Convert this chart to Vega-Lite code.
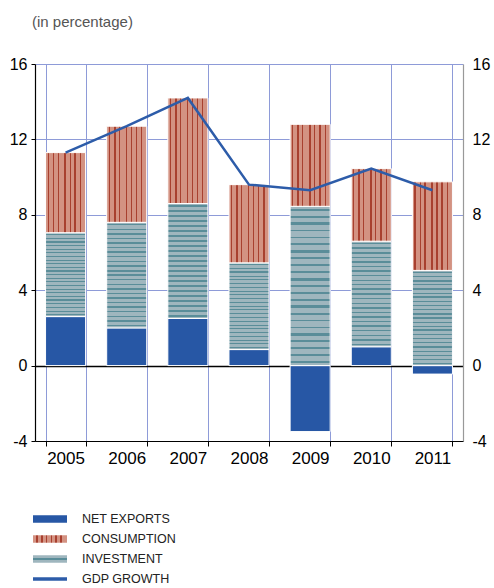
{
  "$schema": "https://vega.github.io/schema/vega-lite/v6.json",
  "width": 428,
  "height": 377,
  "autosize": {"type": "none"},
  "padding": {"left": 35, "top": 64, "right": 31, "bottom": 147},
  "background": "white",
  "title": {"text": "(in percentage)", "anchor": "start", "frame": "group", "orient": "top", "offset": 14, "dx": -3, "baseline": "alphabetic", "fontSize": 15, "fontWeight": "normal", "color": "#555555", "font": "Liberation Sans"},
  "config": {"view": {"stroke": null}, "font": "Liberation Sans"},
  "datasets": {
    "components": [
      {"year": "2005", "series": "NET EXPORTS", "value": 2.6},
      {"year": "2005", "series": "INVESTMENT", "value": 4.45},
      {"year": "2005", "series": "CONSUMPTION", "value": 4.25},
      {"year": "2006", "series": "NET EXPORTS", "value": 2.0},
      {"year": "2006", "series": "INVESTMENT", "value": 5.6},
      {"year": "2006", "series": "CONSUMPTION", "value": 5.1},
      {"year": "2007", "series": "NET EXPORTS", "value": 2.5},
      {"year": "2007", "series": "INVESTMENT", "value": 6.1},
      {"year": "2007", "series": "CONSUMPTION", "value": 5.6},
      {"year": "2008", "series": "NET EXPORTS", "value": 0.85},
      {"year": "2008", "series": "INVESTMENT", "value": 4.6},
      {"year": "2008", "series": "CONSUMPTION", "value": 4.15},
      {"year": "2009", "series": "NET EXPORTS", "value": -3.5},
      {"year": "2009", "series": "INVESTMENT", "value": 8.45},
      {"year": "2009", "series": "CONSUMPTION", "value": 4.35},
      {"year": "2010", "series": "NET EXPORTS", "value": 1.0},
      {"year": "2010", "series": "INVESTMENT", "value": 5.6},
      {"year": "2010", "series": "CONSUMPTION", "value": 3.85},
      {"year": "2011", "series": "NET EXPORTS", "value": -0.45},
      {"year": "2011", "series": "INVESTMENT", "value": 5.05},
      {"year": "2011", "series": "CONSUMPTION", "value": 4.7}
    ],
    "gdp": [
      {"year": "2005", "series": "GDP GROWTH", "value": 11.3},
      {"year": "2006", "series": "GDP GROWTH", "value": 12.7},
      {"year": "2007", "series": "GDP GROWTH", "value": 14.2},
      {"year": "2008", "series": "GDP GROWTH", "value": 9.6},
      {"year": "2009", "series": "GDP GROWTH", "value": 9.3},
      {"year": "2010", "series": "GDP GROWTH", "value": 10.45},
      {"year": "2011", "series": "GDP GROWTH", "value": 9.3}
    ]
  },
  "layer": [
    {
      "data": {"name": "components"},
      "transform": [
        {"stack": "value", "groupby": ["year"], "sort": [{"field": "series", "order": "descending"}], "as": ["y0", "y1"], "offset": "zero"}
      ],
      "encoding": {
        "x": {
          "field": "year", "type": "ordinal",
          "scale": {"paddingInner": 0.345, "paddingOuter": 0.1725},
          "axis": {"title": null, "tickBand": "extent", "labelAngle": 0, "labelFontSize": 17, "labelColor": "black", "labelPadding": 4, "tickSize": 5, "tickColor": "black", "domainColor": "black", "domainWidth": 1.2, "grid": true, "gridColor": "#8e9bd8", "gridWidth": 1}
        },
        "y": {
          "field": "y0", "type": "quantitative",
          "scale": {"domain": [-4, 16], "nice": false},
          "axis": {
            "title": null, "values": [-4, 0, 4, 8, 12, 16], "labelExpr": "'' + datum.value", "labelFontSize": 16, "labelColor": "black",
            "tickSize": 4, "tickColor": "black", "labelPadding": 4, "domainColor": "black", "domainWidth": 1.2,
            "grid": true,
            "gridColor": {"condition": {"test": "datum.value === 0 || datum.value === -4", "value": "black"}, "value": "#8e9bd8"},
            "gridWidth": {"condition": {"test": "datum.value === 0", "value": 1.5}, "value": 1}
          }
        },
        "y2": {"field": "y1"}
      },
      "layer": [
        {
          "transform": [{"filter": "datum.series === 'NET EXPORTS'"}],
          "mark": {"type": "bar", "fill": "#2757a5", "stroke": "white", "strokeWidth": 1}
        },
        {
          "transform": [{"filter": "datum.series === 'INVESTMENT'"}],
          "mark": {"type": "bar", "stroke": "white", "strokeWidth": 1,
            "fill": {"gradient": "linear", "x1": 0, "y1": 0, "x2": 0, "y2": 1, "stops": [
                {"offset": 0, "color": "#9fb6be"},
                {"offset": 0.016, "color": "#9fb6be"}, {"offset": 0.016, "color": "#5a8d99"}, {"offset": 0.028, "color": "#5a8d99"}, {"offset": 0.028, "color": "#9fb6be"},
                {"offset": 0.059, "color": "#9fb6be"}, {"offset": 0.059, "color": "#5a8d99"}, {"offset": 0.071, "color": "#5a8d99"}, {"offset": 0.071, "color": "#9fb6be"},
                {"offset": 0.099, "color": "#9fb6be"}, {"offset": 0.099, "color": "#5a8d99"}, {"offset": 0.119, "color": "#5a8d99"}, {"offset": 0.119, "color": "#9fb6be"},
                {"offset": 0.146, "color": "#9fb6be"}, {"offset": 0.146, "color": "#5a8d99"}, {"offset": 0.158, "color": "#5a8d99"}, {"offset": 0.158, "color": "#9fb6be"},
                {"offset": 0.190, "color": "#9fb6be"}, {"offset": 0.190, "color": "#5a8d99"}, {"offset": 0.202, "color": "#5a8d99"}, {"offset": 0.202, "color": "#9fb6be"},
                {"offset": 0.233, "color": "#9fb6be"}, {"offset": 0.233, "color": "#5a8d99"}, {"offset": 0.245, "color": "#5a8d99"}, {"offset": 0.245, "color": "#9fb6be"},
                {"offset": 0.273, "color": "#9fb6be"}, {"offset": 0.273, "color": "#5a8d99"}, {"offset": 0.293, "color": "#5a8d99"}, {"offset": 0.293, "color": "#9fb6be"},
                {"offset": 0.320, "color": "#9fb6be"}, {"offset": 0.320, "color": "#5a8d99"}, {"offset": 0.332, "color": "#5a8d99"}, {"offset": 0.332, "color": "#9fb6be"},
                {"offset": 0.364, "color": "#9fb6be"}, {"offset": 0.364, "color": "#5a8d99"}, {"offset": 0.376, "color": "#5a8d99"}, {"offset": 0.376, "color": "#9fb6be"},
                {"offset": 0.407, "color": "#9fb6be"}, {"offset": 0.407, "color": "#5a8d99"}, {"offset": 0.419, "color": "#5a8d99"}, {"offset": 0.419, "color": "#9fb6be"},
                {"offset": 0.447, "color": "#9fb6be"}, {"offset": 0.447, "color": "#5a8d99"}, {"offset": 0.467, "color": "#5a8d99"}, {"offset": 0.467, "color": "#9fb6be"},
                {"offset": 0.494, "color": "#9fb6be"}, {"offset": 0.494, "color": "#5a8d99"}, {"offset": 0.506, "color": "#5a8d99"}, {"offset": 0.506, "color": "#9fb6be"},
                {"offset": 0.537, "color": "#9fb6be"}, {"offset": 0.537, "color": "#5a8d99"}, {"offset": 0.549, "color": "#5a8d99"}, {"offset": 0.549, "color": "#9fb6be"},
                {"offset": 0.581, "color": "#9fb6be"}, {"offset": 0.581, "color": "#5a8d99"}, {"offset": 0.593, "color": "#5a8d99"}, {"offset": 0.593, "color": "#9fb6be"},
                {"offset": 0.620, "color": "#9fb6be"}, {"offset": 0.620, "color": "#5a8d99"}, {"offset": 0.640, "color": "#5a8d99"}, {"offset": 0.640, "color": "#9fb6be"},
                {"offset": 0.668, "color": "#9fb6be"}, {"offset": 0.668, "color": "#5a8d99"}, {"offset": 0.680, "color": "#5a8d99"}, {"offset": 0.680, "color": "#9fb6be"},
                {"offset": 0.711, "color": "#9fb6be"}, {"offset": 0.711, "color": "#5a8d99"}, {"offset": 0.723, "color": "#5a8d99"}, {"offset": 0.723, "color": "#9fb6be"},
                {"offset": 0.755, "color": "#9fb6be"}, {"offset": 0.755, "color": "#5a8d99"}, {"offset": 0.767, "color": "#5a8d99"}, {"offset": 0.767, "color": "#9fb6be"},
                {"offset": 0.794, "color": "#9fb6be"}, {"offset": 0.794, "color": "#5a8d99"}, {"offset": 0.814, "color": "#5a8d99"}, {"offset": 0.814, "color": "#9fb6be"},
                {"offset": 0.842, "color": "#9fb6be"}, {"offset": 0.842, "color": "#5a8d99"}, {"offset": 0.854, "color": "#5a8d99"}, {"offset": 0.854, "color": "#9fb6be"},
                {"offset": 0.885, "color": "#9fb6be"}, {"offset": 0.885, "color": "#5a8d99"}, {"offset": 0.897, "color": "#5a8d99"}, {"offset": 0.897, "color": "#9fb6be"},
                {"offset": 0.929, "color": "#9fb6be"}, {"offset": 0.929, "color": "#5a8d99"}, {"offset": 0.941, "color": "#5a8d99"}, {"offset": 0.941, "color": "#9fb6be"},
                {"offset": 0.972, "color": "#9fb6be"}, {"offset": 0.972, "color": "#5a8d99"}, {"offset": 0.984, "color": "#5a8d99"}, {"offset": 0.984, "color": "#9fb6be"},
                {"offset": 1, "color": "#9fb6be"}
            ]}
          }
        },
        {
          "transform": [{"filter": "datum.series === 'CONSUMPTION'"}],
          "mark": {"type": "bar", "stroke": "white", "strokeWidth": 1,
            "fill": {"gradient": "linear", "x1": 0, "y1": 0, "x2": 1, "y2": 0, "stops": [
                {"offset": 0, "color": "#d39282"},
                {"offset": 0.05, "color": "#d39282"}, {"offset": 0.05, "color": "#a8402f"}, {"offset": 0.08, "color": "#a8402f"}, {"offset": 0.08, "color": "#d39282"},
                {"offset": 0.18, "color": "#d39282"}, {"offset": 0.18, "color": "#a8402f"}, {"offset": 0.22, "color": "#a8402f"}, {"offset": 0.22, "color": "#d39282"},
                {"offset": 0.30, "color": "#d39282"}, {"offset": 0.30, "color": "#a8402f"}, {"offset": 0.33, "color": "#a8402f"}, {"offset": 0.33, "color": "#d39282"},
                {"offset": 0.47, "color": "#d39282"}, {"offset": 0.47, "color": "#a8402f"}, {"offset": 0.51, "color": "#a8402f"}, {"offset": 0.51, "color": "#d39282"},
                {"offset": 0.60, "color": "#d39282"}, {"offset": 0.60, "color": "#a8402f"}, {"offset": 0.63, "color": "#a8402f"}, {"offset": 0.63, "color": "#d39282"},
                {"offset": 0.72, "color": "#d39282"}, {"offset": 0.72, "color": "#a8402f"}, {"offset": 0.76, "color": "#a8402f"}, {"offset": 0.76, "color": "#d39282"},
                {"offset": 0.86, "color": "#d39282"}, {"offset": 0.86, "color": "#a8402f"}, {"offset": 0.89, "color": "#a8402f"}, {"offset": 0.89, "color": "#d39282"},
                {"offset": 1, "color": "#d39282"}
            ]}
          }
        }
      ]
    },
    {
      "data": {"name": "gdp"},
      "mark": {"type": "line", "strokeWidth": 2.5},
      "encoding": {
        "x": {"field": "year", "type": "ordinal"},
        "y": {
          "field": "value", "type": "quantitative",
          "scale": {"domain": [-4, 16], "nice": false},
          "axis": {"title": null, "orient": "right", "values": [-4, 0, 4, 8, 12, 16], "labelExpr": "'' + datum.value", "labelFontSize": 16, "labelColor": "black", "ticks": false, "labelPadding": 9, "domainColor": "#999999", "domainWidth": 1.2, "grid": false}
        },
        "color": {
          "field": "series", "type": "nominal",
          "scale": {
            "domain": ["NET EXPORTS", "CONSUMPTION", "INVESTMENT", "GDP GROWTH"],
            "range": ["#2757a5", "#d39282", "#9fb6be", "#2d5ca9"]
          },
          "legend": {
            "title": null, "orient": "none", "legendX": 5, "legendY": 445, "direction": "vertical",
            "symbolType": "M-1.7,-0.37H1.7V0.37H-1.7Z", "symbolSize": 400, "symbolStrokeWidth": 0,
            "labelFontSize": 12.5, "labelFont": "Liberation Sans", "labelColor": "#222222",
            "labelOffset": 22, "rowPadding": 3, "padding": 0,
            "encode": {
              "symbols": {
                "update": {
                  "shape": [{"test": "datum.value === 'GDP GROWTH'", "value": "M-1.7,-0.17H1.7V0.17H-1.7Z"}, {"value": "M-1.7,-0.37H1.7V0.37H-1.7Z"}],
                  "fill": [
                    {"test": "datum.value === 'INVESTMENT'", "value": {"gradient": "linear", "x1": 0, "y1": 0, "x2": 0, "y2": 1, "stops": [
                      {"offset": 0, "color": "#9fb6be"}, {"offset": 0.4, "color": "#9fb6be"}, {"offset": 0.4, "color": "#5a8d99"},
                      {"offset": 0.6, "color": "#5a8d99"}, {"offset": 0.6, "color": "#9fb6be"}, {"offset": 1, "color": "#9fb6be"}]}},
                    {"test": "datum.value === 'CONSUMPTION'", "value": {"gradient": "linear", "x1": 0, "y1": 0, "x2": 1, "y2": 0, "stops": [
                      {"offset": 0, "color": "#d39282"},
                      {"offset": 0.10, "color": "#d39282"}, {"offset": 0.10, "color": "#a8402f"}, {"offset": 0.14, "color": "#a8402f"}, {"offset": 0.14, "color": "#d39282"},
                      {"offset": 0.24, "color": "#d39282"}, {"offset": 0.24, "color": "#a8402f"}, {"offset": 0.28, "color": "#a8402f"}, {"offset": 0.28, "color": "#d39282"},
                      {"offset": 0.38, "color": "#d39282"}, {"offset": 0.38, "color": "#a8402f"}, {"offset": 0.42, "color": "#a8402f"}, {"offset": 0.42, "color": "#d39282"},
                      {"offset": 0.52, "color": "#d39282"}, {"offset": 0.52, "color": "#a8402f"}, {"offset": 0.56, "color": "#a8402f"}, {"offset": 0.56, "color": "#d39282"},
                      {"offset": 0.66, "color": "#d39282"}, {"offset": 0.66, "color": "#a8402f"}, {"offset": 0.70, "color": "#a8402f"}, {"offset": 0.70, "color": "#d39282"},
                      {"offset": 0.80, "color": "#d39282"}, {"offset": 0.80, "color": "#a8402f"}, {"offset": 0.84, "color": "#a8402f"}, {"offset": 0.84, "color": "#d39282"},
                      {"offset": 1, "color": "#d39282"}]}},
                    {"scale": "color", "field": "value"}
                  ],
                  "stroke": {"value": "transparent"},
                  "opacity": {"value": 1},
                  "fillOpacity": {"value": 1}
                }
              }
            }
          }
        }
      }
    }
  ],
  "resolve": {"scale": {"y": "independent"}, "axis": {"y": "independent"}}
}
